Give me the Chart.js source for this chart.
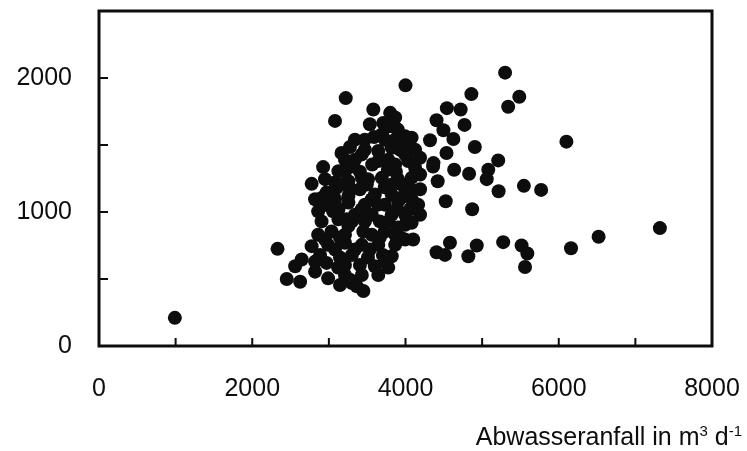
<!DOCTYPE html>
<html>
<head>
<meta charset="utf-8">
<script src="https://cdn.jsdelivr.net/npm/chart.js@4/dist/chart.umd.min.js"></script>
<style>
  html, body { margin: 0; padding: 0; background: #ffffff; }
  #wrap { width: 747px; height: 451px; }
</style>
</head>
<body>
<div id="wrap"><canvas id="c" width="747" height="451"></canvas></div>
<script>
// Abwasseranfall (m3/d) – x values
const abwasser = [
  990, 2330, 2450, 5300, 4000, 4860, 5485, 5340, 4540, 4720, 4770, 4405, 4495, 4625, 4320, 4905,
  6100, 4535, 4190, 5210, 5080, 5060, 4635, 4830, 4420, 4365, 5545, 5770, 5215, 4525, 4870, 4190,
  4080, 3995, 4100, 4580, 4405, 4515, 4930, 4820, 5275, 5515, 5590, 5560, 6160, 6520, 7320, 4360,
  3220, 3580, 3800, 3865, 3080, 3710, 3775, 3590, 3995, 4080, 3275, 3165, 3430, 3645, 3820, 2925,
  3125, 3300, 3645, 3865, 4035, 4125, 2775, 3080, 3255, 3430, 3690, 3950, 4080, 2970, 3255, 3600,
  3820, 2905, 2990, 3255, 3125, 3560, 3730, 3905, 4080, 3560, 3820, 2905, 3125, 2860, 3035, 3255,
  3450, 3560, 3730, 3950, 2775, 2990, 3210, 3430, 3645, 3820, 2645, 2560, 2970, 3210, 3405, 3600,
  2625, 2990, 3210, 3300, 3645, 3450, 3100, 2905, 3055, 3230, 3275, 3365,
  3900, 3730, 3930, 3775, 3875, 3730, 3900, 3890, 3775, 3900, 3665, 3865, 3705, 3775, 3340, 3210,
  3405, 3340, 3210, 3080, 3300, 2885, 3120, 2820, 3430, 3995, 4125, 4060, 4165, 3995, 3470, 3535,
  3495, 3470, 3535,
  3340, 3470, 3565, 3405, 3275, 3145, 3510, 3770, 3825, 3640, 3430, 3300, 2950, 3145, 3470, 3665,
  3865, 3995, 4060, 4190, 4190, 3995, 3865, 3210, 2950, 2820, 2860, 3080, 3340, 3730, 3510, 3145,
  2820, 3145, 3865, 3695, 3955
];
// y values
const yWerte = [
  210, 725, 500, 2040, 1945, 1880, 1860, 1785, 1775, 1765, 1650, 1685, 1610, 1545, 1535, 1485,
  1525, 1440, 1405, 1385, 1315, 1245, 1315, 1285, 1230, 1365, 1195, 1165, 1155, 1080, 1020, 980,
  920, 795, 795, 770, 700, 680, 750, 670, 775, 750, 690, 590, 730, 815, 880, 1340,
  1850, 1765, 1740, 1705, 1680, 1665, 1640, 1560, 1565, 1555, 1485, 1440, 1430, 1455, 1480, 1335,
  1305, 1340, 1380, 1355, 1380, 1330, 1210, 1220, 1230, 1255, 1255, 1205, 1255, 1145, 1120, 1130,
  1130, 1105, 1055, 1070, 1020, 1095, 1055, 1080, 1095, 980, 980, 930, 945, 830, 855, 895,
  855, 830, 855, 805, 745, 755, 770, 755, 755, 670, 645, 595, 620, 605, 605, 595,
  480, 505, 530, 470, 530, 410, 1180, 1045, 1005, 945, 495, 445,
  1615, 1540, 1465, 1390, 1300, 1185, 1245, 1020, 930, 885, 810, 755, 680, 585, 1390, 1300,
  1170, 980, 830, 720, 680, 680, 585, 555, 530, 1505, 1465, 1170, 1055, 980, 1540, 1655,
  1205, 1055, 720,
  1540, 1465, 1355, 1300, 1170, 1205, 1245, 1315, 1205, 1055, 1020, 930, 795, 810, 930, 930,
  830, 905, 1020, 1170, 1280, 1430, 1540, 1390, 1245, 1095, 1005, 1095, 720, 630, 660, 660,
  630, 455, 1630, 1580, 1110
];
const xTickLabels = ['0', '2000', '4000', '6000', '8000'];
const yTickLabels = ['0', '1000', '2000'];
const xTitleMain = 'Abwasseranfall in m';
const xTitleSup1 = '3';
const xTitleMid = ' d';
const xTitleSup2 = '-1';

const points = abwasser.map((v, i) => ({ x: v, y: yWerte[i] }));
const INK = '#0d0d0d';
const FONT = '"Liberation Sans", Arial, Helvetica, sans-serif';

const framePlugin = {
  id: 'frame',
  afterDatasetsDraw(chart) {
    const { ctx, chartArea: a, scales: { x, y } } = chart;
    ctx.save();
    ctx.strokeStyle = INK;
    ctx.lineWidth = 3;
    ctx.strokeRect(a.left, a.top, a.right - a.left, a.bottom - a.top);
    ctx.lineWidth = 2;
    ctx.beginPath();
    x.ticks.forEach(t => {
      if (t.value > x.min && t.value < x.max) {
        const px = x.getPixelForValue(t.value);
        ctx.moveTo(px, a.bottom);
        ctx.lineTo(px, a.bottom - 8);
      }
    });
    y.ticks.forEach(t => {
      if (t.value > y.min && t.value < y.max) {
        const py = y.getPixelForValue(t.value);
        ctx.moveTo(a.left, py);
        ctx.lineTo(a.left + 9, py);
      }
    });
    ctx.stroke();
    ctx.restore();
  },
  afterDraw(chart) {
    const { ctx } = chart;
    ctx.save();
    ctx.fillStyle = INK;
    ctx.textBaseline = 'alphabetic';
    ctx.textAlign = 'left';
    const big = '25px ' + FONT, small = '15px ' + FONT;
    const parts = [[xTitleMain, big, 0], [xTitleSup1, small, -9], [xTitleMid, big, 0], [xTitleSup2, small, -9]];
    let w = 0;
    parts.forEach(p => { ctx.font = p[1]; w += ctx.measureText(p[0]).width; });
    let xx = 742 - w;
    const base = 445;
    parts.forEach(p => { ctx.font = p[1]; ctx.fillText(p[0], xx, base + p[2]); xx += ctx.measureText(p[0]).width; });
    ctx.restore();
  }
};

const noPad = s => { s.paddingLeft = 0; s.paddingRight = 0; s.paddingTop = 0; s.paddingBottom = 0; };

new Chart(document.getElementById('c'), {
  type: 'scatter',
  data: {
    datasets: [{
      data: points,
      pointRadius: 7,
      pointHoverRadius: 7,
      pointBackgroundColor: INK,
      pointBorderColor: INK,
      pointBorderWidth: 0
    }]
  },
  options: {
    responsive: false,
    devicePixelRatio: 1,
    animation: false,
    events: [],
    layout: { padding: { left: 0, right: 35, top: 11, bottom: 0 } },
    plugins: { legend: { display: false }, tooltip: { enabled: false } },
    scales: {
      x: {
        type: 'linear', min: 0, max: 8000,
        border: { display: false },
        grid: { display: false, drawTicks: false },
        ticks: {
          stepSize: 1000, padding: 28, color: INK, font: { family: FONT, size: 25 },
          maxRotation: 0, autoSkip: false,
          callback: v => xTickLabels.includes(String(v)) ? String(v) : ''
        },
        afterFit: s => { s.height = 105; noPad(s); }
      },
      y: {
        type: 'linear', min: 0, max: 2500,
        border: { display: false },
        grid: { display: false, drawTicks: false },
        ticks: {
          stepSize: 500, padding: 27, color: INK, font: { family: FONT, size: 25 },
          autoSkip: false,
          callback: v => yTickLabels.includes(String(v)) ? String(v) : ''
        },
        afterFit: s => { s.width = 99; noPad(s); }
      }
    }
  },
  plugins: [framePlugin]
});
</script>
</body>
</html>
